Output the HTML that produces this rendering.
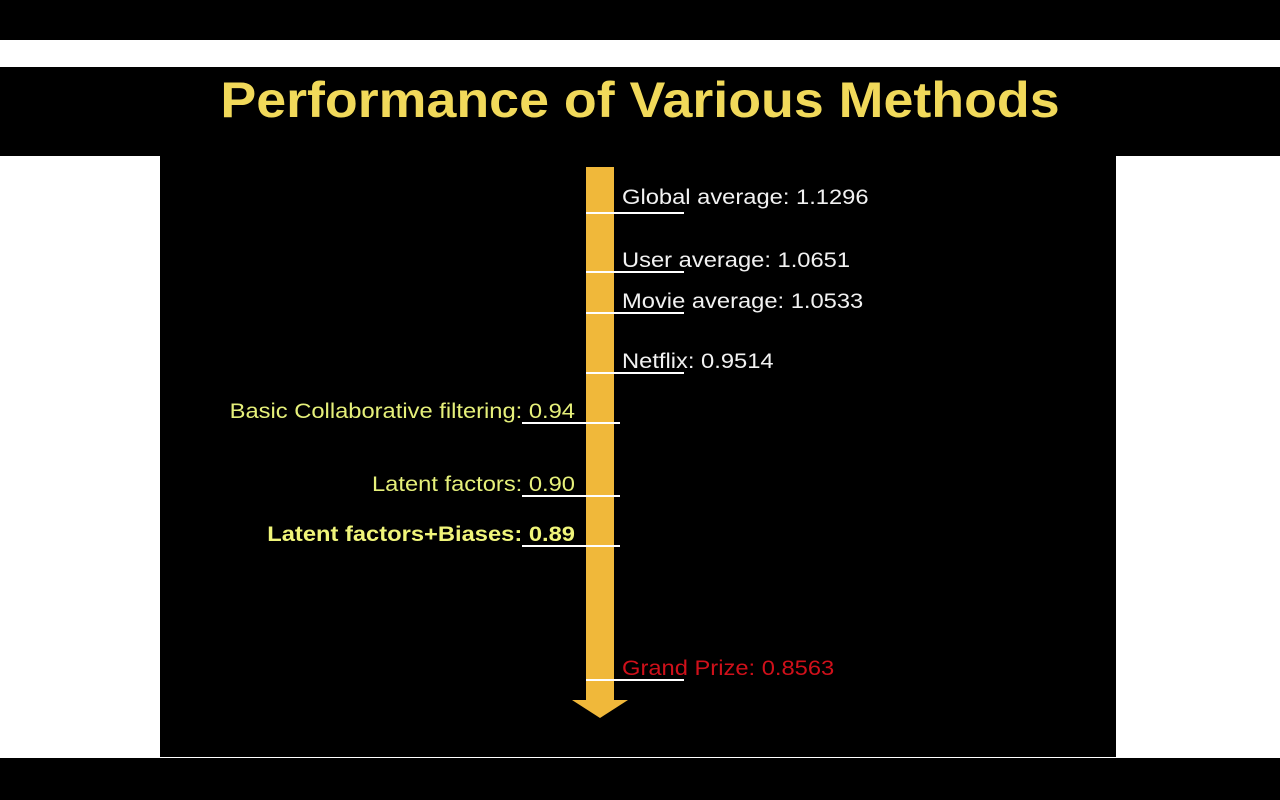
<!DOCTYPE html>
<html><head><meta charset="utf-8"><style>
html,body{margin:0;padding:0;width:1280px;height:800px;overflow:hidden;background:#000;font-family:"Liberation Sans",sans-serif}
#white{position:absolute;left:0;top:40px;width:1280px;height:718px;background:#fff}
#band{position:absolute;left:0;top:67px;width:1280px;height:89px;background:#000}
#panel{position:absolute;left:160px;top:156px;width:956px;height:601px;background:#000}
#title{position:absolute;left:0;top:68px;width:1280px;text-align:center;font-size:50px;font-weight:bold;color:#f1d95a;line-height:64px;transform:scaleX(1.075);transform-origin:640px 0}
svg{position:absolute;left:0;top:0}
</style></head><body>
<div id="white"></div>
<div id="band"></div>
<div id="panel"></div>
<div id="title">Performance of Various Methods</div>
<svg id="chart" width="1280" height="800"></svg>
<script>
const labels=["Global average: ","User average: ","Movie average: ","Netflix: ","Basic Collaborative filtering: ","Latent factors: ","Latent factors+Biases: ","Grand Prize: "];
const values=[1.1296,1.0651,1.0533,0.9514,0.94,0.90,0.89,0.8563];
const printed=["1.1296","1.0651","1.0533","0.9514","0.94","0.90","0.89","0.8563"];
const sides=["right","right","right","right","left","left","left","right"];
const colors=["#f2f2f2","#f2f2f2","#f2f2f2","#f2f2f2","#e6f07a","#e6f07a","#f0f57a","#d0101a"];
const bold=[false,false,false,false,false,false,true,false];
// piecewise scale (the slide's axis is not linear)
const dom=[1.1296,1.0651,1.0533,0.9514,0.94,0.90,0.89,0.8563];
const rng=[213,272,313,373,423,496,546,680];
function y(v){
  if(v>=dom[0])return rng[0]+(v-dom[0])*(rng[1]-rng[0])/(dom[1]-dom[0]);
  for(let i=0;i<dom.length-1;i++){if(v<=dom[i]&&v>=dom[i+1])return rng[i]+(v-dom[i])*(rng[i+1]-rng[i])/(dom[i+1]-dom[i]);}
  const n=dom.length-1;return rng[n]+(v-dom[n])*(rng[n]-rng[n-1])/(dom[n]-dom[n-1]);
}
const svg=document.getElementById('chart');const NS="http://www.w3.org/2000/svg";
function mk(t,a){const e=document.createElementNS(NS,t);for(const k in a)e.setAttribute(k,a[k]);svg.appendChild(e);return e;}
const sh=mk('rect',{x:586,y:167,width:28,height:534,fill:'#f0b83a'});


const hd=mk('polygon',{points:'572,700 628,700 600,718',fill:'#f0b83a'});


values.forEach((v,i)=>{
  const yy=y(v);
  const r=sides[i]==="right";
  const ln=mk('line',{x1:r?586:522,x2:r?684:620,y1:yy,y2:yy,stroke:'#fff','stroke-width':2});
  
  
  const off=(i===0)?9:5;
  const t=mk('text',{x:0,y:0,transform:'translate('+(r?622:575)+','+(yy-off)+') scale(1.13,1)',fill:colors[i],'font-size':21,'text-anchor':r?'start':'end','font-family':'Liberation Sans, sans-serif','font-weight':bold[i]?'bold':'normal'});
  t.textContent=labels[i]+printed[i];
  
  
});
</script>
</body></html>
